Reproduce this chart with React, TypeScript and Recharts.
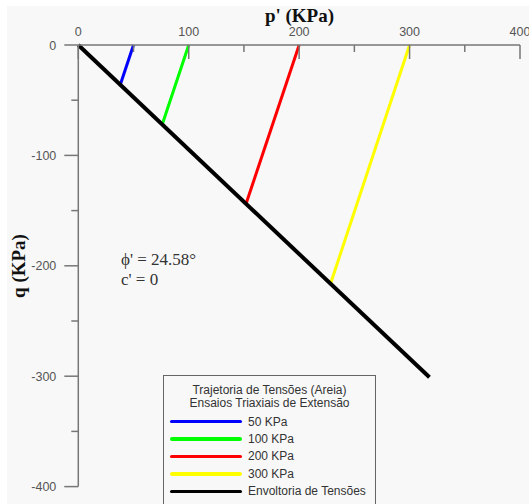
import { Line, LineChart, XAxis, YAxis } from 'recharts'

// stress paths, extension triaxial tests (p', q in KPa)
const pathNames = ['50 KPa', '100 KPa', '200 KPa', '300 KPa']
const pathColors = ['#0000ff', '#00ff00', '#ff0000', '#ffff00']
const pathStartP = [50, 100, 200, 300]
const pathStartQ = [0, 0, 0, 0]
const pathEndP = [38, 76, 152, 228.5]
const pathEndQ = [-36, -72, -143.5, -216]

// failure envelope
const envelopeName = 'Envoltoria de Tensões'
const envelopeP = [0, 318]
const envelopeQ = [0, -301]

const pTicks = [0, 50, 100, 150, 200, 250, 300, 350, 400]
const qTicks = [0, -50, -100, -150, -200, -250, -300, -350, -400]

const legendTitle = ['Trajetoria de Tensões (Areia)', 'Ensaios Triaxiais de Extensão']

const axisColor = '#777'
const sans = '"Liberation Sans", Arial, sans-serif'
const serif = '"Liberation Serif", "Times New Roman", serif'

const pathData = pathNames.map((_, i) => [
  { p: pathStartP[i], q: pathStartQ[i] },
  { p: pathEndP[i], q: pathEndQ[i] },
])
const envelopeData = envelopeP.map((p, i) => ({ p, q: envelopeQ[i] }))

function PTick(props: any) {
  const { x, y, payload } = props
  const major = payload.value % 100 === 0
  return (
    <g>
      <line x1={x} y1={y} x2={x} y2={y + (major ? 14 : 7)} stroke={axisColor} strokeWidth={1.5} />
      {major && (
        <text x={x} y={y - 9} textAnchor="middle" fontSize={12.5} fontFamily={sans} fill="#555">
          {payload.value}
        </text>
      )}
    </g>
  )
}

function QTick(props: any) {
  const { x, y, payload } = props
  const major = payload.value % 100 === 0
  return (
    <g>
      <line x1={x - (major ? 14 : 7)} y1={y} x2={x} y2={y} stroke={axisColor} strokeWidth={1.5} />
      {major && (
        <text x={x - 22} y={y + 4.5} textAnchor="end" fontSize={12.5} fontFamily={sans} fill="#555">
          {payload.value}
        </text>
      )}
    </g>
  )
}

export default function App() {
  const legendRows = [
    ...pathNames.map((name, i) => ({ name, color: pathColors[i] })),
    { name: envelopeName, color: '#000' },
  ]
  return (
    <div
      style={{
        position: 'fixed',
        left: 0,
        top: 0,
        width: 529,
        height: 504,
        overflow: 'hidden',
        background: '#fff',
      }}
    >
      <div style={{ position: 'absolute', left: 7, top: 6, right: 0, bottom: 0, background: '#f8f8f8' }} />
      <div style={{ position: 'absolute', left: 0, top: 0 }}>
        <LineChart width={529} height={504} margin={{ top: 15, right: 9, bottom: 17.4, left: 18.3 }}>
          <XAxis
            type="number"
            dataKey="p"
            orientation="top"
            domain={[0, 400]}
            ticks={pTicks}
            interval={0}
            height={30}
            tickSize={0}
            tickMargin={0}
            tickLine={false}
            tick={<PTick />}
            axisLine={{ stroke: axisColor, strokeWidth: 1.5 }}
          />
          <YAxis
            type="number"
            dataKey="q"
            domain={[-400, 0]}
            ticks={qTicks}
            interval={0}
            width={60}
            tickSize={0}
            tickMargin={0}
            tickLine={false}
            tick={<QTick />}
            axisLine={{ stroke: axisColor, strokeWidth: 1.5 }}
          />
          {pathData.map((d, i) => (
            <Line
              key={pathNames[i]}
              data={d}
              dataKey="q"
              type="linear"
              stroke={pathColors[i]}
              strokeWidth={3}
              dot={false}
              isAnimationActive={false}
            />
          ))}
          <Line
            data={envelopeData}
            dataKey="q"
            type="linear"
            stroke="#000"
            strokeWidth={4}
            dot={false}
            isAnimationActive={false}
          />
        </LineChart>
      </div>
      <svg
        width={529}
        height={504}
        style={{ position: 'absolute', left: 0, top: 0, pointerEvents: 'none' }}
      >
        <text x={299.5} y={22} textAnchor="middle" fontFamily={serif} fontWeight="bold" fontSize={19} fill="#111">
          p' (KPa)
        </text>
        <text
          transform="translate(25,266) rotate(-90)"
          textAnchor="middle"
          fontFamily={serif}
          fontWeight="bold"
          fontSize={19}
          fill="#111"
        >
          q (KPa)
        </text>
        <text x={121} y={265} fontFamily={serif} fontSize={17} fill="#333">
          ϕ' = 24.58°
        </text>
        <text x={121} y={285} fontFamily={serif} fontSize={17} fill="#333">
          c' = 0
        </text>
      </svg>
      <div
        style={{
          position: 'absolute',
          left: 163,
          top: 375,
          width: 213,
          height: 140,
          border: '1px solid #666',
          background: '#f8f8f8',
          fontFamily: sans,
          fontSize: 12,
          color: '#333',
          boxSizing: 'border-box',
        }}
      >
        <div style={{ textAlign: 'center', lineHeight: '13px', marginTop: 8 }}>
          {legendTitle.map((t) => (
            <div key={t}>{t}</div>
          ))}
        </div>
        <div style={{ marginTop: 3 }}>
          {legendRows.map((r) => (
            <div key={r.name} style={{ display: 'flex', alignItems: 'center', height: 17.4 }}>
              <div
                style={{
                  marginLeft: 6,
                  width: 72,
                  height: 3.5,
                  borderRadius: 2,
                  background: r.color,
                }}
              />
              <span style={{ marginLeft: 6 }}>{r.name}</span>
            </div>
          ))}
        </div>
      </div>
    </div>
  )
}
